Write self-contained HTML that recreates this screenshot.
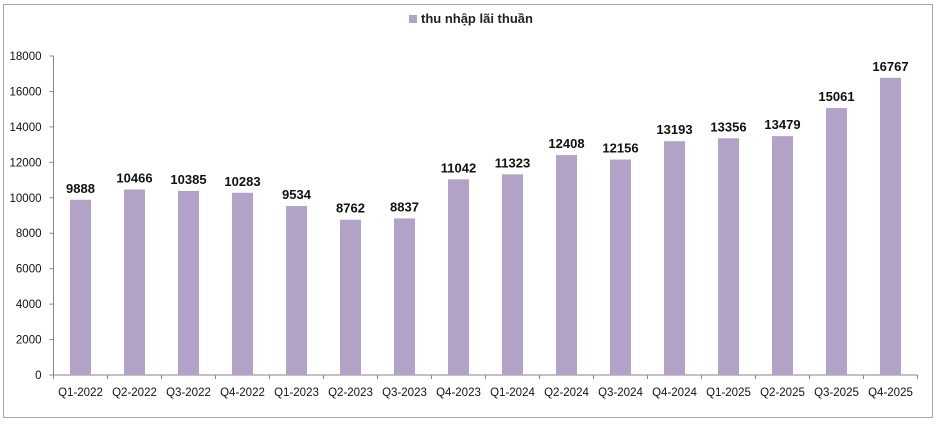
<!DOCTYPE html>
<html><head><meta charset="utf-8"><style>
body{margin:0;background:#fff;width:939px;height:424px;overflow:hidden;font-family:"Liberation Sans",Arial,sans-serif}
svg text{font-family:"Liberation Sans",Arial,sans-serif}
</style></head><body>
<svg id="c" width="939" height="424">
<rect x="3.5" y="4.5" width="929" height="413" fill="#fff" stroke="#a6a6a6"/>
<rect x="409" y="15" width="8" height="8" fill="#b3a2c7"/>
<text x="421" y="23" font-size="13" font-weight="bold" fill="#222">thu nhập lãi thuần</text>
<g id="g"></g>
</svg>
<script>
const categories=["Q1-2022","Q2-2022","Q3-2022","Q4-2022","Q1-2023","Q2-2023","Q3-2023","Q4-2023","Q1-2024","Q2-2024","Q3-2024","Q4-2024","Q1-2025","Q2-2025","Q3-2025","Q4-2025"];
const values=[9888,10466,10385,10283,9534,8762,8837,11042,11323,12408,12156,13193,13356,13479,15061,16767];
const ticks=[0,2000,4000,6000,8000,10000,12000,14000,16000,18000];
const NS="http://www.w3.org/2000/svg",g=document.getElementById('g');
const x0=53.5,cw=54,y0=375,yTop=56,yMax=18000;
const y=v=>y0-(v/yMax)*(y0-yTop);
const xc=i=>x0+cw*i+cw/2;
function el(t,a){const e=document.createElementNS(NS,t);for(const k in a)e.setAttribute(k,a[k]);g.appendChild(e);return e;}
ticks.forEach(t=>{
 const l=el('line',{x1:x0-4,x2:x0,y1:y(t),y2:y(t),stroke:'#868686'});
 
 
 const tx=el('text',{x:x0-12,y:y(t)+4,'text-anchor':'end','font-size':'11.5',fill:'#111'});tx.textContent=t;
 
 
});
const ax=el('line',{x1:x0,x2:x0,y1:yTop,y2:y0,stroke:'#868686'});


const bx=el('line',{x1:x0,x2:x0+cw*categories.length,y1:y0,y2:y0,stroke:'#868686'});


categories.forEach((c,i)=>{
 const tk=el('line',{x1:x0+cw*(i+1),x2:x0+cw*(i+1),y1:y0,y2:y0+4,stroke:'#868686'});
 
 
 if(i==0){const t0=el('line',{x1:x0,x2:x0,y1:y0,y2:y0+4,stroke:'#868686'});}
 const v=values[i];
 const b=el('rect',{x:xc(i)-10.5,y:y(v),width:21,height:y0-y(v),fill:'#b3a2c7'});
 
 
 const lb=el('text',{x:xc(i),y:y(v)-7,'text-anchor':'middle','font-size':'13','font-weight':'bold',fill:'#111'});lb.textContent=v;
 
 
 const xl=el('text',{x:xc(i),y:y0+21,'text-anchor':'middle','font-size':'11.5',fill:'#111'});xl.textContent=c;
 
 
});
</script>
</body></html>
